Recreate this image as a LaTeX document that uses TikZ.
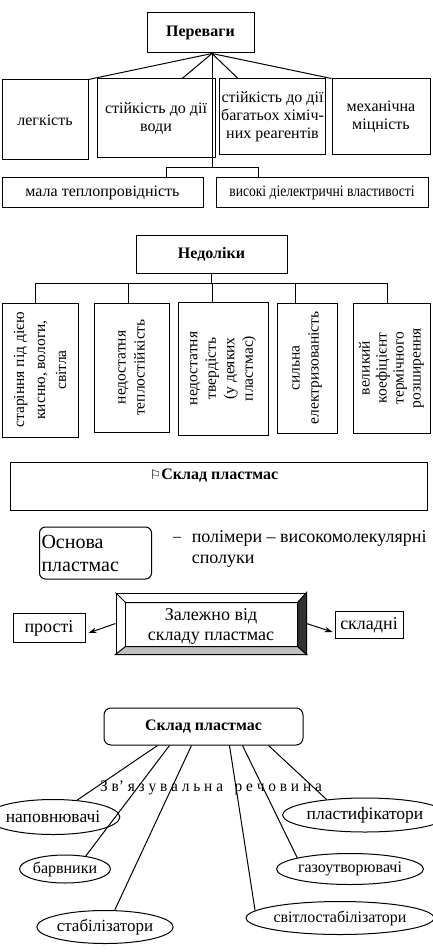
\documentclass[tikz,border=0pt]{standalone}
\usepackage{fontspec}
\setmainfont{Liberation Serif}
\newfontfamily\symf{DejaVu Sans}
\usetikzlibrary{shapes.geometric,arrows.meta,calc}
\newcommand\fsA{\fontsize{16}{18}\selectfont}
\newcommand\fsB{\fontsize{18}{21}\selectfont}
\tikzset{
  bx/.style={draw, line width=1pt, inner sep=2pt, align=center, font=\fsA},
  rbx/.style={draw, line width=1pt, rotate=90, inner sep=2pt, align=center},
  ell/.style={draw, line width=1pt, ellipse, inner sep=0pt, font=\fsA},
  arr/.style={line width=1pt, -{Stealth[length=8pt,width=5.5pt]}},
}
\begin{document}
\begin{tikzpicture}[x=1pt,y=-1pt,line width=1pt]
\useasboundingbox (0,0) rectangle (432,952);
\fill[white] (0,0) rectangle (432,952);

% ---------- Переваги ----------
\node[bx, font=\fsA\bfseries, minimum width=107, minimum height=40] (per) at (200.5,33) {Переваги};
\node[bx, minimum width=86, minimum height=80] (b1) at (45,120) {легкість};
\node[bx, minimum width=118, minimum height=79] (b2) at (156,118.5) {стійкість до дії\\води};
\node[bx, minimum width=105, minimum height=76] (b3) at (272.5,117) {стійкість до дії\\багатьох хіміч-\\них реагентів};
\node[bx, minimum width=98, minimum height=76] (b4) at (381,117) {механічна\\міцність};
\node[bx, minimum width=201, minimum height=29] (b5) at (102.5,192.5) {мала теплопровідність};
\node[bx, minimum width=212, minimum height=29] (b6) at (322,192.5) {\scalebox{0.85}[1]{високі діелектричні властивості}};

\coordinate (hub) at ($(per.south)+(11.5,0)$);
\draw (hub) -- (b1.north east);
\draw (hub) -- ($(b2.north west)!0.72!(b2.north east)$);
\draw (hub) -- ($(b3.north west)!0.18!(b3.north east)$);
\draw (hub) -- (b4.north west);
\coordinate (j1) at ($(hub)+(0,114)$);
\draw (hub) -- (j1);
\draw ($(b5.north west)!0.816!(b5.north east)$) |- (j1) -| ($(b6.north west)!0.2!(b6.north east)$);

% ---------- Недоліки ----------
\node[bx, font=\fsA\bfseries, minimum width=151, minimum height=38] (ned) at (211.5,254) {Недоліки};
\node[rbx, minimum width=134, minimum height=76, font=\fontsize{15.5}{21}\selectfont] (na) at (40,370) {старіння під дією\\кисню, вологи,\\світла};
\node[rbx, minimum width=129, minimum height=75, font=\fontsize{15.5}{19}\selectfont] (nb) at (131.5,367.5) {недостатня\\теплостійкість};
\node[rbx, minimum width=133, minimum height=90, font=\fontsize{15.5}{18.5}\selectfont] (nc) at (223,368.5) {недостатня\\твердість\\(у деяких\\пластмас)};
\node[rbx, minimum width=130, minimum height=60, font=\fontsize{15.5}{19}\selectfont] (nd) at (307,368) {сильна\\електризованість};
\node[rbx, minimum width=130, minimum height=77, font=\fontsize{15.5}{17}\selectfont] (ne) at (391.5,368) {великий\\коефіцієнт\\термічного\\розширення};

\coordinate (j2) at ($(ned.south)+(0,10)$);
\draw (ned.south) -- (j2);
\draw (j2) -| ($(na.east)+(-5,0)$);
\draw (j2) -| ($(nb.east)+(-3.5,0)$);
\draw (j2) -| ($(nc.east)+(-11,0)$);
\draw (j2) -| ($(nd.east)+(-12,0)$);
\draw (j2) -| ($(ne.east)+(-4.5,0)$);

% ---------- Склад пластмас ----------
\node[draw, minimum width=417, minimum height=48] (skl) at (218.5,486) {};
\node[font=\fsA\bfseries] (sklt) at (214,476) {{\symf\fontsize{13}{13}\selectfont ⚐}Склад пластмас};

\node[draw, rounded corners=6, text width=108, minimum height=52, align=left, inner sep=2pt, font=\fontsize{20}{23}\selectfont] (osn) at (95.5,553) {Основа\\пластмас};
\node[font=\fsA] (dash) at (177,539) {–};
\node[font=\fontsize{18}{21}\selectfont, align=left, anchor=west] (pol) at (188,549) {полімери – високомолекулярні\\сполуки};

% ---------- bevel box ----------
\node[draw, minimum width=190, minimum height=61] (zal) at (211,623.5) {};
\coordinate (zi1) at ($(zal.north west)+(10,10)$);
\coordinate (zi2) at ($(zal.north east)+(-9,10)$);
\coordinate (zi3) at ($(zal.south east)+(-9,-8)$);
\coordinate (zi4) at ($(zal.south west)+(10,-8)$);
\filldraw[fill=black!80] (zal.north east) -- (zi2) -- (zi3) -- (zal.south east) -- cycle;
\filldraw[fill=gray!50] (zal.south west) -- (zi4) -- (zi3) -- (zal.south east) -- cycle;
\draw (zal.north west) -- (zi1) -- (zi2);
\draw (zi1) -- (zi4);
\node[font=\fontsize{18}{20}\selectfont, align=center] (zalt) at ($(zal.center)+(0,3)$) {Залежно від\\складу пластмас};

\node[bx, font=\fsB, minimum width=72, minimum height=29] (pro) at (49,628) {прості};
\node[bx, font=\fsB, minimum width=68, minimum height=27] (sklad) at (369,625) {складні};
\draw[arr] (zal.west) -- ($(pro.east)+(3,5)$);
\draw[arr] (zal.east) -- ($(sklad.west)+(-2,7)$);

% ---------- Склад пластмас (2) ----------
\node[draw, rounded corners=7, minimum width=199, minimum height=37, font=\fsA\bfseries] (sk2) at (203.5,726.5) {Склад пластмас};
\node[font=\fsA] (zv) at (211,788) {\scalebox{0.96}[1]{З в’ я з у в а л ь н а \ \ р е ч о в и н а}};

\node[ell, minimum width=107, minimum height=35, font=\fontsize{17.5}{19}\selectfont] (nap) at (53,817) {наповнювачі};
\node[ell, minimum width=130, minimum height=34, font=\fontsize{17.5}{19}\selectfont] (pla) at (365,815) {пластифікатори};
\node[ell, minimum width=84, minimum height=28] (bar) at (65,869) {барвники};
\node[ell, minimum width=104, minimum height=33, font=\fontsize{17}{19}\selectfont] (sta) at (105,927) {стабілізатори};
\node[ell, minimum width=124, minimum height=31] (gaz) at (350,869) {газоутворювачі};
\node[ell, minimum width=134, minimum height=33] (svi) at (340,918) {світлостабілізатори};

\draw ($(sk2.south west)+(54,0)$) -- (nap.35);
\draw ($(sk2.south west)+(66,0)$) -- (bar.32);
\draw ($(sk2.south west)+(88,0)$) -- (sta.60);
\draw ($(sk2.south west)+(126,0)$) -- (svi.175);
\draw ($(sk2.south west)+(139,0)$) -- (gaz.168);
\draw ($(sk2.south west)+(165,0)$) -- (pla.158);
\end{tikzpicture}
\end{document}
